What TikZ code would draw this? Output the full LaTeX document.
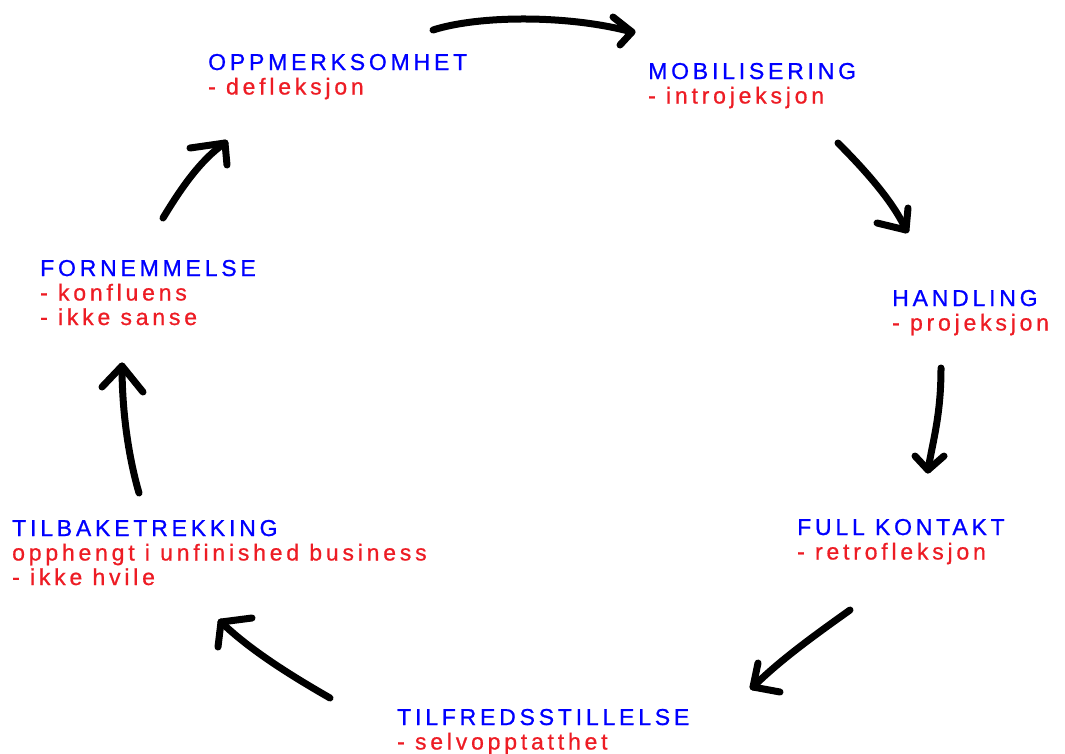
\documentclass[tikz,border=0pt]{standalone}
\usepackage{fontspec}
\setmainfont{Liberation Sans}[LetterSpace=16.5, FakeBold=0.8]
\definecolor{stageblue}{RGB}{0,0,255}
\definecolor{stagered}{RGB}{237,28,36}
\tikzset{
  stage/.style={anchor=base west, inner sep=0pt, font=\fontsize{23}{24.5}\selectfont},
  loopline/.style={line width=7pt, line cap=round, line join=round, black},
}
\newcommand\hd[1]{\color{stageblue}#1}
\newcommand\rd[1]{\color{stagered}#1}
\begin{document}
\begin{tikzpicture}[x=1pt,y=-1pt]
\useasboundingbox (0,0) rectangle (1065,753);
% stages
\node[stage] (opp) at (208,70) {\begin{tabular}[t]{@{}l@{}}\hd{OPPMERKSOMHET}\\\rd{- defleksjon}\end{tabular}};
\node[stage] (mob) at (648,79) {\begin{tabular}[t]{@{}l@{}}\hd{MOBILISERING}\\\rd{- introjeksjon}\end{tabular}};
\node[stage] (han) at (892,306) {\begin{tabular}[t]{@{}l@{}}\hd{HANDLING}\\\rd{- projeksjon}\end{tabular}};
\node[stage] (ful) at (797,535) {\begin{tabular}[t]{@{}l@{}}\hd{FULL KONTAKT}\\\rd{- retrofleksjon}\end{tabular}};
\node[stage] (til) at (397,725) {\begin{tabular}[t]{@{}l@{}}\hd{TILFREDSSTILLELSE}\\\rd{- selvopptatthet}\end{tabular}};
\node[stage] (tbk) at (12,536) {\begin{tabular}[t]{@{}l@{}}\hd{TILBAKETREKKING}\\\rd{opphengt i unfinished business}\\\rd{- ikke hvile}\end{tabular}};
\node[stage] (for) at (40,276) {\begin{tabular}[t]{@{}l@{}}\hd{FORNEMMELSE}\\\rd{- konfluens}\\\rd{- ikke sanse}\end{tabular}};
% arrows
\coordinate (a1s) at (433,30); \coordinate (a1e) at (632,32);
\draw[loopline] (a1s) .. controls (480,15) and (570,15) .. (a1e);
\draw[loopline] (613,17) -- (a1e) -- (620,45);
\coordinate (a2s) at (838,143); \coordinate (a2e) at (906,230);
\draw[loopline] (a2s) .. controls (870,175) and (895,205) .. (a2e);
\draw[loopline] (877,223) -- (a2e) -- (908,208);
\coordinate (a3s) at (941,368); \coordinate (a3e) at (928,470);
\draw[loopline] (a3s) .. controls (941,415) and (933,440) .. (a3e);
\draw[loopline] (915,456) -- (a3e) -- (944,456);
\coordinate (a4s) at (850,610); \coordinate (a4e) at (753,687);
\draw[loopline] (a4s) .. controls (815,635) and (780,660) .. (a4e);
\draw[loopline] (758,663) -- (a4e) -- (780,692);
\coordinate (a5s) at (330,698); \coordinate (a5e) at (221,622);
\draw[loopline] (a5s) .. controls (290,675) and (250,650) .. (a5e);
\draw[loopline] (252,618) -- (a5e) -- (218,647);
\coordinate (a6s) at (139,493); \coordinate (a6e) at (122,366);
\draw[loopline] (a6s) .. controls (128,455) and (122,410) .. (a6e);
\draw[loopline] (102,387) -- (a6e) -- (143,392);
\coordinate (a7s) at (163,218); \coordinate (a7e) at (225,143);
\draw[loopline] (a7s) .. controls (180,190) and (200,160) .. (a7e);
\draw[loopline] (190,148) -- (a7e) -- (227,165);
\end{tikzpicture}
\end{document}
